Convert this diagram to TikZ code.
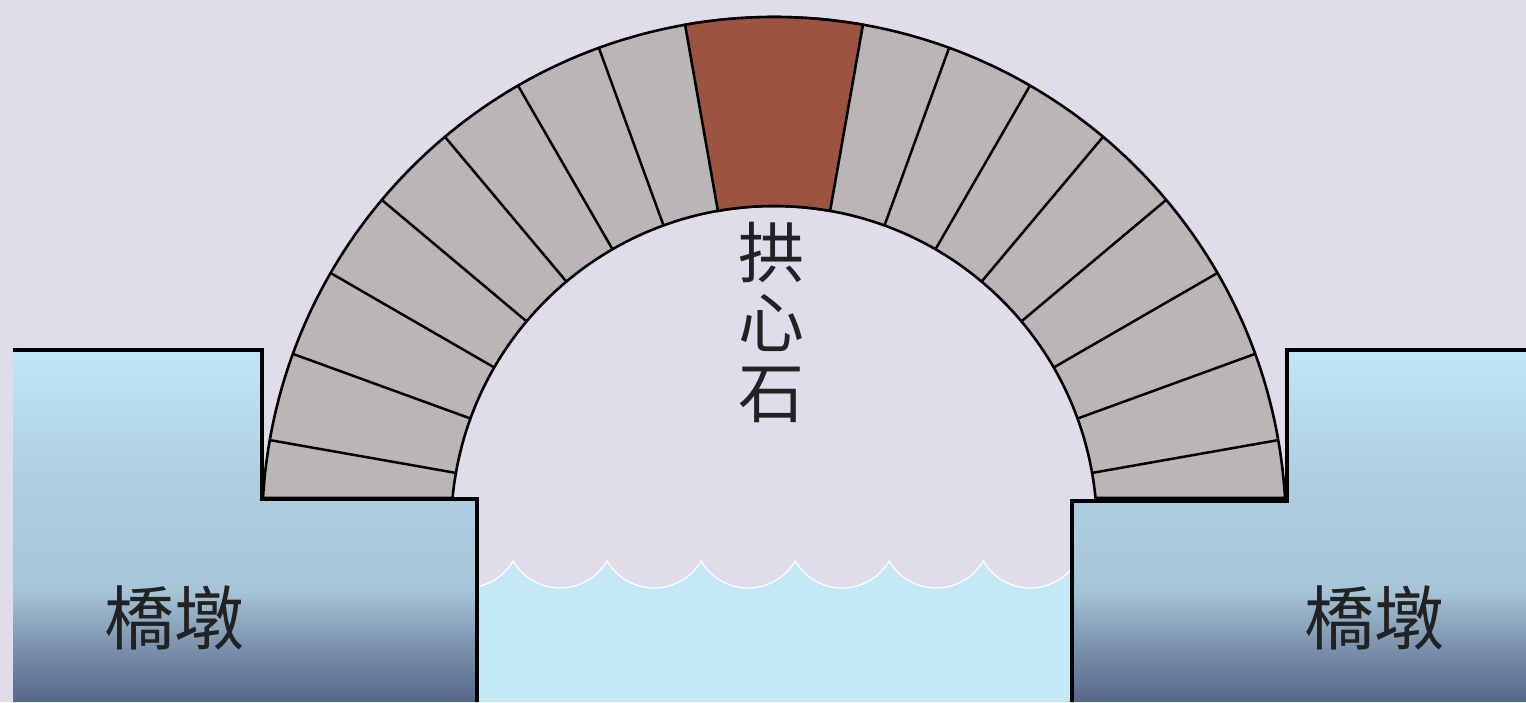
\documentclass[tikz,border=0pt]{standalone}
\usepackage{fontspec}
\newfontfamily\cjk{Noto Sans CJK TC}
\usetikzlibrary{calc}

\definecolor{sky}{HTML}{E1DCEA}
\definecolor{stone}{HTML}{BBB6B6}
\definecolor{keyred}{HTML}{9C5440}
\definecolor{water}{HTML}{C5E8F7}
\definecolor{inkc}{HTML}{222222}
\definecolor{pierA}{HTML}{55688A}
\definecolor{pierB}{HTML}{7A8FAA}
\definecolor{pierC}{HTML}{A6C5D8}
\definecolor{pierD}{HTML}{AED0E2}
\definecolor{pierE}{HTML}{C2E6F6}

% vertical gradient of the piers, dark at the foot and pale at the top
% (the path box is mapped onto the 25bp--75bp band)
\pgfdeclareverticalshading{piershade}{100bp}{%
  color(0bp)=(pierA); color(25bp)=(pierA); color(32.5bp)=(pierB);
  color(41bp)=(pierC); color(57.5bp)=(pierD); color(75bp)=(pierE);
  color(100bp)=(pierE)}

\tikzset{
  outline/.style={draw=black, line width=1.8pt, line join=miter},
  joint/.style={draw=black, line width=1.25pt},
  pierfill/.style={shading=piershade},
  pierlabel/.style={font=\cjk\fontsize{35}{35}\selectfont, text=inkc},
  keylabel/.style={font=\cjk\fontsize{33}{35}\selectfont, text=inkc, align=center},
}

\begin{document}
\begin{tikzpicture}[x=0.5pt,y=0.5pt]
  % sky
  \fill[sky] (0,0) rectangle (1526,702);
  \useasboundingbox (0,0) rectangle (1526,702);

  % arch centre and radii
  \coordinate (C) at (774,173);
  \def\Rout{512}
  \def\Rin{323}

  % water with a scalloped surface
  \begin{scope}
    \clip (477,0) rectangle (1072,702);
    \fill[water] (419,141)
      \foreach \k in {1,...,7} { arc[start angle=210.2, end angle=329.8, radius=54.4] }
      -- (1077,0) -- (419,0) -- cycle;
    \draw[white, line width=0.6pt] (419,141)
      \foreach \k in {1,...,7} { arc[start angle=210.2, end angle=329.8, radius=54.4] };
  \end{scope}

  % piers
  \shade[pierfill] (13,350) -- (262,350) -- (262,204) -- (477,204) -- (477,0) -- (13,0) -- cycle;
  \shade[pierfill] (1072,0) -- (1072,202) -- (1287,202) -- (1287,350) -- (1526,350) -- (1526,0) -- cycle;
  \draw[outline] (13,352) -- (262,352) -- (262,203) -- (477,203) -- (477,0);
  \draw[outline] (1072,0) -- (1072,201) -- (1287,201) -- (1287,352) -- (1527,352);

  % arch ring of voussoirs
  \filldraw[fill=stone, draw=black, line width=1.3pt]
    ([shift={(3.47:\Rout)}]C)
    arc[start angle=3.47, end angle=176.53, radius=\Rout]
    -- ([shift={(174.5:\Rin)}]C)
    arc[start angle=174.5, end angle=5.5, radius=\Rin] -- cycle;
  \foreach \a in {10,20,...,70,110,120,...,170}
    \draw[joint] ([shift={(\a:\Rin)}]C) -- ([shift={(\a:\Rout)}]C);

  % keystone
  \filldraw[fill=keyred, draw=black, line width=1.3pt]
    ([shift={(80:\Rin)}]C) -- ([shift={(80:\Rout)}]C)
    arc[start angle=80, end angle=100, radius=\Rout]
    -- ([shift={(100:\Rin)}]C)
    arc[start angle=100, end angle=80, radius=\Rin] -- cycle;

  % labels
  \node[keylabel] (key) at (771,380) {拱\\心\\石};
  \node[pierlabel] (pl) at (174,84) {橋墩};
  \node[pierlabel] (pr) at (1374,84) {橋墩};
\end{tikzpicture}
\end{document}
